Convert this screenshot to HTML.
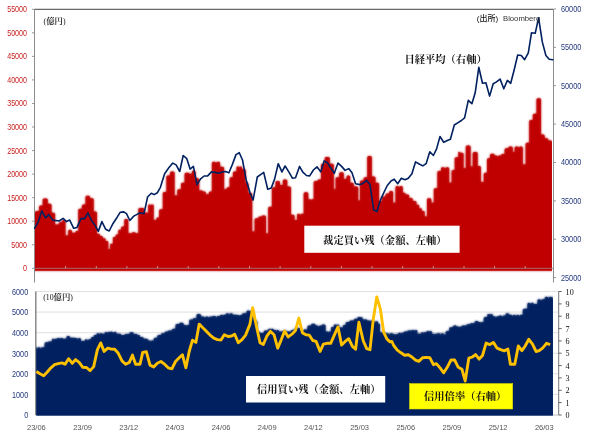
<!DOCTYPE html>
<html lang="ja"><head><meta charset="utf-8"><title>chart</title>
<style>html,body{margin:0;padding:0;background:#fff}svg{display:block}</style></head>
<body><svg width="604" height="439" viewBox="0 0 604 439">
<rect width="604" height="439" fill="#fff"/>
<defs><filter id="soft" x="-2%" y="-2%" width="104%" height="104%"><feGaussianBlur stdDeviation="0.8"/></filter></defs>
<clipPath id="ct"><rect x="34.9" y="9.3" width="517.0" height="265.0"/></clipPath>
<g clip-path="url(#ct)"><path d="M28.0,270.5L28.0,212.4Q28.0,210.9 29.5,210.9L30.0,210.9Q31.7,210.9 31.7,212.7L31.7,212.7Q31.7,210.9 33.5,210.9L33.7,210.9Q35.4,210.9 35.4,212.7L35.4,212.7Q35.4,210.9 37.2,210.9L39.1,210.9L39.1,207.0Q39.1,205.5 40.6,205.5L42.7,205.5L42.7,200.1Q42.7,198.6 44.2,198.6L46.3,198.6Q47.8,198.6 47.8,200.1L47.8,203.7L50.0,203.7Q51.5,203.7 51.5,205.2L51.5,212.8L53.6,212.8Q55.1,212.8 55.1,214.3L55.1,224.6L58.8,224.6L58.8,223.4Q58.8,221.9 60.3,221.9L61.9,221.9L61.9,221.5Q61.9,220.0 63.4,220.0L64.0,220.0Q65.5,220.0 65.5,221.5L65.5,235.5L68.2,235.5L68.2,231.2Q68.2,229.7 69.7,229.7L70.4,229.7Q71.9,229.7 71.9,231.2L71.9,232.8L75.5,232.8L75.5,232.3Q75.5,231.0 76.9,231.0L78.3,231.0L78.3,210.3Q78.3,208.8 79.8,208.8L81.9,208.8L81.9,206.1Q81.9,204.6 83.4,204.6L85.5,204.6L85.5,197.3Q85.5,195.8 87.0,195.8L88.6,195.8Q90.1,195.8 90.1,197.3L90.1,198.2L92.2,198.2Q93.7,198.2 93.7,199.7L93.7,211.5L95.5,211.5Q97.0,211.5 97.0,213.0L97.0,233.7L98.6,233.7Q100.1,233.7 100.1,235.2L100.1,236.1L101.5,236.1Q102.8,236.1 102.8,237.4L102.8,238.3L104.2,238.3Q105.6,238.3 105.6,239.6L105.6,241.0L106.9,241.0Q108.3,241.0 108.3,242.4L108.3,249.2L110.1,249.2L110.1,245.1Q110.1,243.7 111.5,243.7L112.9,243.7L112.9,238.4Q112.9,237.0 114.2,237.0L115.6,237.0L115.6,236.0Q115.6,234.6 117.0,234.6L118.3,234.6L118.3,231.1Q118.3,229.7 119.7,229.7L121.1,229.7L121.1,227.9Q121.1,226.4 122.6,226.4L124.3,226.4L124.3,220.6Q124.3,219.1 125.8,219.1L126.8,219.1Q128.3,219.1 128.3,220.6L128.3,233.3L132.0,233.3L132.0,233.3Q132.0,232.3 133.1,232.3L134.5,232.3Q135.6,232.3 135.6,233.3L135.6,233.3L138.4,233.3L138.4,209.0Q138.4,208.2 139.2,208.2L140.0,208.2L140.0,208.2Q140.0,207.9 140.3,207.9L143.1,207.9Q144.6,207.9 144.6,209.4L144.6,212.8L148.2,212.8L148.2,206.0Q148.2,204.6 149.6,204.6L149.6,204.6Q150.9,204.6 150.9,206.0L150.9,206.0Q150.9,204.6 152.3,204.6L152.3,204.6Q153.7,204.6 153.7,206.0L153.7,220.1L156.4,220.1L156.4,218.8Q156.4,217.4 157.8,217.4L159.1,217.4L159.1,210.7Q159.1,209.2 160.6,209.2L162.8,209.2L162.8,193.4Q162.8,191.9 164.3,191.9L166.4,191.9L166.4,177.0Q166.4,175.5 167.9,175.5L170.0,175.5L170.0,173.0Q170.0,171.5 171.5,171.5L173.1,171.5Q174.6,171.5 174.6,173.0L174.6,195.5L177.3,195.5L177.3,190.7Q177.3,189.2 178.8,189.2L181.0,189.2L181.0,184.3Q181.0,182.8 182.5,182.8L184.6,182.8L184.6,174.3Q184.6,172.8 186.1,172.8L188.3,172.8Q189.2,172.8 189.2,173.7L189.2,173.7L191.9,173.7L191.9,171.9Q191.9,170.4 193.4,170.4L194.0,170.4Q195.5,170.4 195.5,171.9L195.5,178.2L197.7,178.2Q199.2,178.2 199.2,179.7L199.2,190.4L201.7,190.4Q202.8,190.4 202.8,191.5L202.8,191.5L204.4,191.5Q205.9,191.5 205.9,193.0L205.9,194.3L208.8,194.3L208.8,193.0Q208.8,191.5 210.3,191.5L211.9,191.5L211.9,163.3Q211.9,161.8 213.4,161.8L214.3,161.8Q216.0,161.8 216.0,163.6L216.0,163.6Q216.0,161.8 217.8,161.8L218.6,161.8Q220.1,161.8 220.1,163.3L220.1,166.8L222.6,166.8Q224.1,166.8 224.1,168.3L224.1,189.2L226.5,189.2L226.5,188.8Q226.5,187.3 228.0,187.3L229.6,187.3L229.6,178.8Q229.6,177.3 231.1,177.3L232.9,177.3L232.9,173.0Q232.9,171.5 234.4,171.5L236.5,171.5L236.5,167.8Q236.5,166.4 237.9,166.4L237.9,166.4Q239.3,166.4 239.3,167.8L239.3,167.8Q239.3,166.4 240.6,166.4L240.6,166.4Q242.0,166.4 242.0,167.8L242.0,169.1L244.1,169.1Q245.6,169.1 245.6,170.6L245.6,182.8L247.0,182.8Q248.4,182.8 248.4,184.1L248.4,192.8L250.7,192.8Q252.2,192.8 252.2,194.3L252.2,231.4L254.6,231.4L254.6,219.8Q254.6,218.3 256.1,218.3L258.2,218.3L258.2,218.0Q258.2,216.5 259.7,216.5L261.8,216.5L261.8,216.5Q261.8,215.6 262.7,215.6L264.5,215.6Q266.0,215.6 266.0,217.1L266.0,233.4L268.2,233.4L268.2,208.3Q268.2,206.8 269.7,206.8L271.9,206.8L271.9,188.8Q271.9,187.3 273.4,187.3L275.5,187.3L275.5,182.5Q275.5,181.0 277.0,181.0L278.5,181.0Q280.0,181.0 280.0,182.5L280.0,185.0L282.8,185.0L282.8,181.0Q282.8,179.5 284.3,179.5L285.8,179.5Q287.3,179.5 287.3,181.0L287.3,186.4L289.5,186.4Q291.0,186.4 291.0,187.9L291.0,214.7L293.1,214.7Q294.6,214.7 294.6,216.2L294.6,220.1L297.0,220.1L297.0,215.2Q297.0,213.7 298.5,213.7L298.7,213.7Q300.4,213.7 300.4,215.4L300.4,215.4Q300.4,213.7 302.0,213.7L303.7,213.7L303.7,193.8Q303.7,192.3 305.2,192.3L306.8,192.3Q308.3,192.3 308.3,193.8L308.3,199.2L309.6,199.2Q311.0,199.2 311.0,200.5L311.0,200.5Q311.0,199.2 312.4,199.2L313.7,199.2L313.7,182.5Q313.7,181.0 315.2,181.0L317.4,181.0L317.4,181.0Q317.4,179.5 318.8,179.5L321.0,179.5L321.0,165.2Q321.0,163.7 322.5,163.7L324.7,163.7L324.7,158.4Q324.7,156.9 326.2,156.9L328.3,156.9Q329.8,156.9 329.8,158.4L329.8,163.7L332.3,163.7Q333.8,163.7 333.8,165.2L333.8,189.2L335.6,189.2L335.6,178.8Q335.6,177.3 337.1,177.3L339.2,177.3L339.2,173.7Q339.2,172.2 340.7,172.2L342.3,172.2Q343.8,172.2 343.8,173.7L343.8,179.1L346.5,179.1L346.5,177.0Q346.5,175.5 348.0,175.5L348.7,175.5Q350.2,175.5 350.2,177.0L350.2,182.8L352.3,182.8Q353.8,182.8 353.8,184.3L353.8,186.4L356.7,186.4Q358.2,186.4 358.2,187.9L358.2,200.4L360.0,200.4L360.0,181.9Q360.0,180.4 361.5,180.4L363.6,180.4L363.6,178.8Q363.6,177.3 365.1,177.3L367.3,177.3L367.3,157.5Q367.3,156.0 368.8,156.0L370.3,156.0Q371.8,156.0 371.8,157.5L371.8,176.4L374.0,176.4Q375.5,176.4 375.5,177.9L375.5,182.8L377.6,182.8Q379.1,182.8 379.1,184.3L379.1,201.0L381.9,201.0L381.9,198.0Q381.9,196.5 383.4,196.5L385.5,196.5L385.5,194.9Q385.5,193.4 387.0,193.4L389.1,193.4L389.1,192.5Q389.1,191.0 390.6,191.0L391.6,191.0Q393.1,191.0 393.1,192.5L393.1,202.8L395.5,202.8L395.5,187.4Q395.5,185.9 397.0,185.9L397.4,185.9Q399.2,185.9 399.2,187.6L399.2,187.6Q399.2,185.9 400.9,185.9L401.3,185.9Q402.8,185.9 402.8,187.4L402.8,192.8L404.2,192.8Q405.5,192.8 405.5,194.2L405.5,194.6L407.7,194.6Q409.2,194.6 409.2,196.1L409.2,197.9L411.3,197.9Q412.8,197.9 412.8,199.4L412.8,201.0L415.0,201.0Q416.5,201.0 416.5,202.5L416.5,204.7L417.8,204.7Q419.2,204.7 419.2,206.0L419.2,208.3L420.6,208.3Q421.9,208.3 421.9,209.7L421.9,211.0L423.3,211.0Q424.7,211.0 424.7,212.4L424.7,216.5L427.0,216.5L427.0,199.8Q427.0,198.3 428.5,198.3L429.9,198.3Q431.4,198.3 431.4,199.8L431.4,202.8L433.8,202.8L433.8,189.8Q433.8,188.3 435.3,188.3L437.4,188.3L437.4,172.5Q437.4,171.0 438.9,171.0L441.0,171.0L441.0,168.8Q441.0,167.3 442.5,167.3L443.4,167.3Q445.1,167.3 445.1,169.1L445.1,169.1Q445.1,167.3 446.9,167.3L447.7,167.3Q449.2,167.3 449.2,168.8L449.2,182.8L451.6,182.8L451.6,171.5Q451.6,170.0 453.1,170.0L454.7,170.0L454.7,158.8Q454.7,157.3 456.2,157.3L458.3,157.3L458.3,152.7Q458.3,151.8 459.2,151.8L459.2,151.8Q460.0,151.8 460.0,152.7L460.0,152.8L462.1,152.8Q463.6,152.8 463.6,154.3L463.6,168.2L465.8,168.2L465.8,147.0Q465.8,145.5 467.3,145.5L469.1,145.5Q470.6,145.5 470.6,147.0L470.6,166.4L472.7,166.4L472.7,153.4Q472.7,151.9 474.2,151.9L476.2,151.9Q477.7,151.9 477.7,153.4L477.7,165.9L479.4,165.9Q480.9,165.9 480.9,167.4L480.9,181.9L483.7,181.9L483.7,174.3Q483.7,172.8 485.2,172.8L487.0,172.8L487.0,159.7Q487.0,158.2 488.5,158.2L490.0,158.2L490.0,155.2Q490.0,153.7 491.5,153.7L493.1,153.7Q494.6,153.7 494.6,155.2L494.6,155.5L496.2,155.5Q497.8,155.5 497.8,157.1L497.8,157.1Q497.8,155.5 499.4,155.5L501.0,155.5L501.0,155.5Q501.0,154.0 502.4,154.0L504.6,154.0L504.6,149.7Q504.6,148.2 506.1,148.2L508.3,148.2L508.3,147.9Q508.3,146.4 509.8,146.4L511.3,146.4Q512.8,146.4 512.8,147.9L512.8,151.9L514.6,151.9L514.6,147.9Q514.6,146.4 516.1,146.4L517.0,146.4Q518.7,146.4 518.7,148.1L518.7,148.1Q518.7,146.4 520.5,146.4L521.3,146.4Q522.8,146.4 522.8,147.9L522.8,164.6L525.6,164.6L525.6,144.2Q525.6,142.7 527.1,142.7L529.2,142.7L529.2,121.5Q529.2,120.0 530.7,120.0L532.8,120.0L532.8,115.2Q532.8,113.7 534.3,113.7L536.5,113.7L536.5,99.7Q536.5,98.2 538.0,98.2L539.5,98.2Q541.0,98.2 541.0,99.7L541.0,134.6L543.2,134.6Q544.7,134.6 544.7,136.1L544.7,138.3L546.8,138.3Q548.3,138.3 548.3,139.8L548.3,140.6L550.5,140.6Q552.2,140.6 552.2,142.4L552.2,142.4Q552.2,140.6 554.0,140.6L554.4,140.6Q556.1,140.6 556.1,142.4L556.1,142.4Q556.1,140.6 557.9,140.6L558.5,140.6Q560.0,140.6 560.0,142.1L560.0,270.5Z" fill="#C00000" filter="url(#soft)"/><path d="M28.0,270.5L28.0,212.4Q28.0,210.9 29.5,210.9L30.0,210.9Q31.7,210.9 31.7,212.7L31.7,212.7Q31.7,210.9 33.5,210.9L33.7,210.9Q35.4,210.9 35.4,212.7L35.4,212.7Q35.4,210.9 37.2,210.9L39.1,210.9L39.1,207.0Q39.1,205.5 40.6,205.5L42.7,205.5L42.7,200.1Q42.7,198.6 44.2,198.6L46.3,198.6Q47.8,198.6 47.8,200.1L47.8,203.7L50.0,203.7Q51.5,203.7 51.5,205.2L51.5,212.8L53.6,212.8Q55.1,212.8 55.1,214.3L55.1,224.6L58.8,224.6L58.8,223.4Q58.8,221.9 60.3,221.9L61.9,221.9L61.9,221.5Q61.9,220.0 63.4,220.0L64.0,220.0Q65.5,220.0 65.5,221.5L65.5,235.5L68.2,235.5L68.2,231.2Q68.2,229.7 69.7,229.7L70.4,229.7Q71.9,229.7 71.9,231.2L71.9,232.8L75.5,232.8L75.5,232.3Q75.5,231.0 76.9,231.0L78.3,231.0L78.3,210.3Q78.3,208.8 79.8,208.8L81.9,208.8L81.9,206.1Q81.9,204.6 83.4,204.6L85.5,204.6L85.5,197.3Q85.5,195.8 87.0,195.8L88.6,195.8Q90.1,195.8 90.1,197.3L90.1,198.2L92.2,198.2Q93.7,198.2 93.7,199.7L93.7,211.5L95.5,211.5Q97.0,211.5 97.0,213.0L97.0,233.7L98.6,233.7Q100.1,233.7 100.1,235.2L100.1,236.1L101.5,236.1Q102.8,236.1 102.8,237.4L102.8,238.3L104.2,238.3Q105.6,238.3 105.6,239.6L105.6,241.0L106.9,241.0Q108.3,241.0 108.3,242.4L108.3,249.2L110.1,249.2L110.1,245.1Q110.1,243.7 111.5,243.7L112.9,243.7L112.9,238.4Q112.9,237.0 114.2,237.0L115.6,237.0L115.6,236.0Q115.6,234.6 117.0,234.6L118.3,234.6L118.3,231.1Q118.3,229.7 119.7,229.7L121.1,229.7L121.1,227.9Q121.1,226.4 122.6,226.4L124.3,226.4L124.3,220.6Q124.3,219.1 125.8,219.1L126.8,219.1Q128.3,219.1 128.3,220.6L128.3,233.3L132.0,233.3L132.0,233.3Q132.0,232.3 133.1,232.3L134.5,232.3Q135.6,232.3 135.6,233.3L135.6,233.3L138.4,233.3L138.4,209.0Q138.4,208.2 139.2,208.2L140.0,208.2L140.0,208.2Q140.0,207.9 140.3,207.9L143.1,207.9Q144.6,207.9 144.6,209.4L144.6,212.8L148.2,212.8L148.2,206.0Q148.2,204.6 149.6,204.6L149.6,204.6Q150.9,204.6 150.9,206.0L150.9,206.0Q150.9,204.6 152.3,204.6L152.3,204.6Q153.7,204.6 153.7,206.0L153.7,220.1L156.4,220.1L156.4,218.8Q156.4,217.4 157.8,217.4L159.1,217.4L159.1,210.7Q159.1,209.2 160.6,209.2L162.8,209.2L162.8,193.4Q162.8,191.9 164.3,191.9L166.4,191.9L166.4,177.0Q166.4,175.5 167.9,175.5L170.0,175.5L170.0,173.0Q170.0,171.5 171.5,171.5L173.1,171.5Q174.6,171.5 174.6,173.0L174.6,195.5L177.3,195.5L177.3,190.7Q177.3,189.2 178.8,189.2L181.0,189.2L181.0,184.3Q181.0,182.8 182.5,182.8L184.6,182.8L184.6,174.3Q184.6,172.8 186.1,172.8L188.3,172.8Q189.2,172.8 189.2,173.7L189.2,173.7L191.9,173.7L191.9,171.9Q191.9,170.4 193.4,170.4L194.0,170.4Q195.5,170.4 195.5,171.9L195.5,178.2L197.7,178.2Q199.2,178.2 199.2,179.7L199.2,190.4L201.7,190.4Q202.8,190.4 202.8,191.5L202.8,191.5L204.4,191.5Q205.9,191.5 205.9,193.0L205.9,194.3L208.8,194.3L208.8,193.0Q208.8,191.5 210.3,191.5L211.9,191.5L211.9,163.3Q211.9,161.8 213.4,161.8L214.3,161.8Q216.0,161.8 216.0,163.6L216.0,163.6Q216.0,161.8 217.8,161.8L218.6,161.8Q220.1,161.8 220.1,163.3L220.1,166.8L222.6,166.8Q224.1,166.8 224.1,168.3L224.1,189.2L226.5,189.2L226.5,188.8Q226.5,187.3 228.0,187.3L229.6,187.3L229.6,178.8Q229.6,177.3 231.1,177.3L232.9,177.3L232.9,173.0Q232.9,171.5 234.4,171.5L236.5,171.5L236.5,167.8Q236.5,166.4 237.9,166.4L237.9,166.4Q239.3,166.4 239.3,167.8L239.3,167.8Q239.3,166.4 240.6,166.4L240.6,166.4Q242.0,166.4 242.0,167.8L242.0,169.1L244.1,169.1Q245.6,169.1 245.6,170.6L245.6,182.8L247.0,182.8Q248.4,182.8 248.4,184.1L248.4,192.8L250.7,192.8Q252.2,192.8 252.2,194.3L252.2,231.4L254.6,231.4L254.6,219.8Q254.6,218.3 256.1,218.3L258.2,218.3L258.2,218.0Q258.2,216.5 259.7,216.5L261.8,216.5L261.8,216.5Q261.8,215.6 262.7,215.6L264.5,215.6Q266.0,215.6 266.0,217.1L266.0,233.4L268.2,233.4L268.2,208.3Q268.2,206.8 269.7,206.8L271.9,206.8L271.9,188.8Q271.9,187.3 273.4,187.3L275.5,187.3L275.5,182.5Q275.5,181.0 277.0,181.0L278.5,181.0Q280.0,181.0 280.0,182.5L280.0,185.0L282.8,185.0L282.8,181.0Q282.8,179.5 284.3,179.5L285.8,179.5Q287.3,179.5 287.3,181.0L287.3,186.4L289.5,186.4Q291.0,186.4 291.0,187.9L291.0,214.7L293.1,214.7Q294.6,214.7 294.6,216.2L294.6,220.1L297.0,220.1L297.0,215.2Q297.0,213.7 298.5,213.7L298.7,213.7Q300.4,213.7 300.4,215.4L300.4,215.4Q300.4,213.7 302.0,213.7L303.7,213.7L303.7,193.8Q303.7,192.3 305.2,192.3L306.8,192.3Q308.3,192.3 308.3,193.8L308.3,199.2L309.6,199.2Q311.0,199.2 311.0,200.5L311.0,200.5Q311.0,199.2 312.4,199.2L313.7,199.2L313.7,182.5Q313.7,181.0 315.2,181.0L317.4,181.0L317.4,181.0Q317.4,179.5 318.8,179.5L321.0,179.5L321.0,165.2Q321.0,163.7 322.5,163.7L324.7,163.7L324.7,158.4Q324.7,156.9 326.2,156.9L328.3,156.9Q329.8,156.9 329.8,158.4L329.8,163.7L332.3,163.7Q333.8,163.7 333.8,165.2L333.8,189.2L335.6,189.2L335.6,178.8Q335.6,177.3 337.1,177.3L339.2,177.3L339.2,173.7Q339.2,172.2 340.7,172.2L342.3,172.2Q343.8,172.2 343.8,173.7L343.8,179.1L346.5,179.1L346.5,177.0Q346.5,175.5 348.0,175.5L348.7,175.5Q350.2,175.5 350.2,177.0L350.2,182.8L352.3,182.8Q353.8,182.8 353.8,184.3L353.8,186.4L356.7,186.4Q358.2,186.4 358.2,187.9L358.2,200.4L360.0,200.4L360.0,181.9Q360.0,180.4 361.5,180.4L363.6,180.4L363.6,178.8Q363.6,177.3 365.1,177.3L367.3,177.3L367.3,157.5Q367.3,156.0 368.8,156.0L370.3,156.0Q371.8,156.0 371.8,157.5L371.8,176.4L374.0,176.4Q375.5,176.4 375.5,177.9L375.5,182.8L377.6,182.8Q379.1,182.8 379.1,184.3L379.1,201.0L381.9,201.0L381.9,198.0Q381.9,196.5 383.4,196.5L385.5,196.5L385.5,194.9Q385.5,193.4 387.0,193.4L389.1,193.4L389.1,192.5Q389.1,191.0 390.6,191.0L391.6,191.0Q393.1,191.0 393.1,192.5L393.1,202.8L395.5,202.8L395.5,187.4Q395.5,185.9 397.0,185.9L397.4,185.9Q399.2,185.9 399.2,187.6L399.2,187.6Q399.2,185.9 400.9,185.9L401.3,185.9Q402.8,185.9 402.8,187.4L402.8,192.8L404.2,192.8Q405.5,192.8 405.5,194.2L405.5,194.6L407.7,194.6Q409.2,194.6 409.2,196.1L409.2,197.9L411.3,197.9Q412.8,197.9 412.8,199.4L412.8,201.0L415.0,201.0Q416.5,201.0 416.5,202.5L416.5,204.7L417.8,204.7Q419.2,204.7 419.2,206.0L419.2,208.3L420.6,208.3Q421.9,208.3 421.9,209.7L421.9,211.0L423.3,211.0Q424.7,211.0 424.7,212.4L424.7,216.5L427.0,216.5L427.0,199.8Q427.0,198.3 428.5,198.3L429.9,198.3Q431.4,198.3 431.4,199.8L431.4,202.8L433.8,202.8L433.8,189.8Q433.8,188.3 435.3,188.3L437.4,188.3L437.4,172.5Q437.4,171.0 438.9,171.0L441.0,171.0L441.0,168.8Q441.0,167.3 442.5,167.3L443.4,167.3Q445.1,167.3 445.1,169.1L445.1,169.1Q445.1,167.3 446.9,167.3L447.7,167.3Q449.2,167.3 449.2,168.8L449.2,182.8L451.6,182.8L451.6,171.5Q451.6,170.0 453.1,170.0L454.7,170.0L454.7,158.8Q454.7,157.3 456.2,157.3L458.3,157.3L458.3,152.7Q458.3,151.8 459.2,151.8L459.2,151.8Q460.0,151.8 460.0,152.7L460.0,152.8L462.1,152.8Q463.6,152.8 463.6,154.3L463.6,168.2L465.8,168.2L465.8,147.0Q465.8,145.5 467.3,145.5L469.1,145.5Q470.6,145.5 470.6,147.0L470.6,166.4L472.7,166.4L472.7,153.4Q472.7,151.9 474.2,151.9L476.2,151.9Q477.7,151.9 477.7,153.4L477.7,165.9L479.4,165.9Q480.9,165.9 480.9,167.4L480.9,181.9L483.7,181.9L483.7,174.3Q483.7,172.8 485.2,172.8L487.0,172.8L487.0,159.7Q487.0,158.2 488.5,158.2L490.0,158.2L490.0,155.2Q490.0,153.7 491.5,153.7L493.1,153.7Q494.6,153.7 494.6,155.2L494.6,155.5L496.2,155.5Q497.8,155.5 497.8,157.1L497.8,157.1Q497.8,155.5 499.4,155.5L501.0,155.5L501.0,155.5Q501.0,154.0 502.4,154.0L504.6,154.0L504.6,149.7Q504.6,148.2 506.1,148.2L508.3,148.2L508.3,147.9Q508.3,146.4 509.8,146.4L511.3,146.4Q512.8,146.4 512.8,147.9L512.8,151.9L514.6,151.9L514.6,147.9Q514.6,146.4 516.1,146.4L517.0,146.4Q518.7,146.4 518.7,148.1L518.7,148.1Q518.7,146.4 520.5,146.4L521.3,146.4Q522.8,146.4 522.8,147.9L522.8,164.6L525.6,164.6L525.6,144.2Q525.6,142.7 527.1,142.7L529.2,142.7L529.2,121.5Q529.2,120.0 530.7,120.0L532.8,120.0L532.8,115.2Q532.8,113.7 534.3,113.7L536.5,113.7L536.5,99.7Q536.5,98.2 538.0,98.2L539.5,98.2Q541.0,98.2 541.0,99.7L541.0,134.6L543.2,134.6Q544.7,134.6 544.7,136.1L544.7,138.3L546.8,138.3Q548.3,138.3 548.3,139.8L548.3,140.6L550.5,140.6Q552.2,140.6 552.2,142.4L552.2,142.4Q552.2,140.6 554.0,140.6L554.4,140.6Q556.1,140.6 556.1,142.4L556.1,142.4Q556.1,140.6 557.9,140.6L558.5,140.6Q560.0,140.6 560.0,142.1L560.0,270.5Z" fill="#C00000" opacity="0.75"/></g>
<rect x="34.5" y="268.3" width="517.4" height="2.2" fill="#C00000"/>
<path d="M34.5,9.3H553.5" stroke="#444" stroke-width="1" fill="none"/>
<path d="M34.5,9.3V282.5" stroke="#8c8c8c" stroke-width="1" fill="none"/>
<path d="M553.5,9.3V282.5" stroke="#8c8c8c" stroke-width="1" fill="none"/>
<path d="M34.5,268.3H553.5" stroke="#a07878" stroke-width="0.9" fill="none"/>
<path d="M65.6,266.1V268.3M96.3,266.1V268.3M126.9,266.1V268.3M157.6,266.1V268.3M188.2,266.1V268.3M218.8,266.1V268.3M249.5,266.1V268.3M280.1,266.1V268.3M310.8,266.1V268.3M341.4,266.1V268.3M372.0,266.1V268.3M402.7,266.1V268.3M433.3,266.1V268.3M464.0,266.1V268.3M494.6,266.1V268.3M525.2,266.1V268.3" stroke="#cfa0a0" stroke-width="0.9" fill="none"/>
<path d="M32.0,9.3H34.5M32.0,32.8H34.5M32.0,56.4H34.5M32.0,79.9H34.5M32.0,103.5H34.5M32.0,127.0H34.5M32.0,150.6H34.5M32.0,174.1H34.5M32.0,197.7H34.5M32.0,221.2H34.5M32.0,244.8H34.5M32.0,268.3H34.5" stroke="#8c8c8c" stroke-width="0.9" fill="none"/>
<path d="M553.5,9.0H556.0M553.5,47.4H556.0M553.5,85.7H556.0M553.5,124.1H556.0M553.5,162.5H556.0M553.5,200.9H556.0M553.5,239.2H556.0M553.5,277.6H556.0" stroke="#8c8c8c" stroke-width="0.9" fill="none"/>
<g font-family="'Liberation Sans',sans-serif" font-size="8.3" fill="#c81e1e" text-anchor="end">
<text x="27" y="12.2" textLength="19.8" lengthAdjust="spacingAndGlyphs">55000</text>
<text x="27" y="35.7" textLength="19.8" lengthAdjust="spacingAndGlyphs">50000</text>
<text x="27" y="59.3" textLength="19.8" lengthAdjust="spacingAndGlyphs">45000</text>
<text x="27" y="82.8" textLength="19.8" lengthAdjust="spacingAndGlyphs">40000</text>
<text x="27" y="106.4" textLength="19.8" lengthAdjust="spacingAndGlyphs">35000</text>
<text x="27" y="129.9" textLength="19.8" lengthAdjust="spacingAndGlyphs">30000</text>
<text x="27" y="153.5" textLength="19.8" lengthAdjust="spacingAndGlyphs">25000</text>
<text x="27" y="177.0" textLength="19.8" lengthAdjust="spacingAndGlyphs">20000</text>
<text x="27" y="200.6" textLength="19.8" lengthAdjust="spacingAndGlyphs">15000</text>
<text x="27" y="224.1" textLength="19.8" lengthAdjust="spacingAndGlyphs">10000</text>
<text x="27" y="247.7" textLength="15.8" lengthAdjust="spacingAndGlyphs">5000</text>
<text x="27" y="271.2" textLength="4.0" lengthAdjust="spacingAndGlyphs">0</text>
</g>
<g font-family="'Liberation Sans',sans-serif" font-size="8.3" fill="#24397a">
<text x="561" y="11.9" textLength="20.3" lengthAdjust="spacingAndGlyphs">60000</text>
<text x="561" y="50.3" textLength="20.3" lengthAdjust="spacingAndGlyphs">55000</text>
<text x="561" y="88.6" textLength="20.3" lengthAdjust="spacingAndGlyphs">50000</text>
<text x="561" y="127.0" textLength="20.3" lengthAdjust="spacingAndGlyphs">45000</text>
<text x="561" y="165.4" textLength="20.3" lengthAdjust="spacingAndGlyphs">40000</text>
<text x="561" y="203.8" textLength="20.3" lengthAdjust="spacingAndGlyphs">35000</text>
<text x="561" y="242.1" textLength="20.3" lengthAdjust="spacingAndGlyphs">30000</text>
<text x="561" y="280.5" textLength="20.3" lengthAdjust="spacingAndGlyphs">25000</text>
</g>
<path d="M34.6,228.3L38.2,221.9L41.8,211.0L45.5,217.9L48.8,214.6L52.8,220.1L59.1,221.0L63.1,218.3L66.4,221.6L69.7,220.1L73.7,228.3L77.0,227.4L81.0,218.6L84.6,218.6L87.9,212.8L91.9,221.0L95.2,225.6L98.3,231.4L101.9,221.6L105.6,229.2L109.2,231.0L112.9,223.7L116.5,218.3L120.1,212.3L123.8,211.9L126.5,213.7L129.8,220.5L133.8,216.1L137.5,214.1L140.0,212.8L144.0,213.7L147.6,197.0L151.3,193.2L154.2,194.6L157.3,192.8L160.4,187.3L164.6,173.7L168.8,167.8L172.8,163.1L176.1,164.9L179.7,171.5L183.2,155.5L186.8,158.7L190.1,169.1L193.4,166.4L197.0,184.6L200.6,178.8L204.1,176.0L207.7,175.9L211.4,171.9L215.0,172.4L218.7,173.3L222.3,171.9L225.6,171.5L228.9,172.8L232.3,164.6L236.0,154.6L239.3,152.7L242.5,160.0L246.2,180.0L250.0,192.8L253.1,200.1L257.3,177.0L260.6,174.6L263.7,172.4L267.7,189.2L271.3,187.9L274.6,179.1L278.2,163.7L281.9,171.9L285.1,166.0L288.8,171.9L292.4,178.2L295.5,177.7L299.5,166.4L302.8,172.2L306.5,175.5L309.7,175.9L313.4,170.0L317.0,166.8L320.7,171.9L324.1,160.9L327.4,162.7L331.0,168.2L334.3,173.3L338.0,163.1L341.6,166.4L345.1,170.4L348.7,168.6L352.0,172.8L355.6,183.7L360.0,184.6L363.3,183.2L366.7,180.4L370.0,184.6L373.7,210.1L376.9,211.4L380.4,200.1L383.7,192.8L387.3,185.5L391.0,181.0L394.2,179.2L397.7,183.7L401.3,178.2L405.0,179.7L408.3,178.2L411.9,173.7L415.5,161.9L419.2,164.0L422.8,165.9L426.1,163.7L429.8,151.8L433.4,155.5L436.5,149.1L440.0,136.5L443.7,142.3L447.3,140.5L450.4,139.2L454.3,125.0L457.7,122.8L461.4,120.5L464.6,117.9L468.3,100.4L471.9,103.7L475.2,92.8L478.8,67.3L482.5,83.3L485.9,82.8L489.6,96.1L493.2,83.7L496.5,81.9L500.1,79.1L503.8,88.8L507.4,80.4L510.7,83.3L514.2,69.7L517.7,55.0L521.3,55.5L524.6,59.7L528.3,52.8L531.5,32.8L535.2,33.3L538.6,17.8L542.3,41.9L545.9,55.5L549.2,59.2L552.8,59.7" stroke="#002060" stroke-width="1.6" fill="none" stroke-linejoin="round" stroke-linecap="round"/>
<text x="43.6" y="24.3" font-family="'Liberation Serif','Noto Serif CJK JP','Noto Serif CJK SC',serif" font-size="7.8" fill="#111">(<tspan font-size="8.4" font-weight="600">億円</tspan>)</text>
<text x="476.8" y="21.2" font-family="'Liberation Sans','Noto Sans CJK JP',sans-serif" font-size="8" font-weight="500" fill="#111">(出所)</text>
<text x="503" y="20.8" font-family="'Liberation Sans','Noto Sans CJK JP',sans-serif" font-size="7.7" fill="#333">Bloomberg</text>
<text x="404.4" y="63.3" font-family="'Liberation Serif','Noto Serif CJK JP','Noto Serif CJK SC',serif" font-size="10.3" font-weight="700" fill="#111">日経平均（右軸）</text>
<rect x="304.3" y="225.7" width="155.3" height="27.1" fill="#fff"/>
<text x="323.1" y="243.6" font-family="'Liberation Serif','Noto Serif CJK JP','Noto Serif CJK SC',serif" font-size="10.3" font-weight="700" fill="#111">裁定買い残（金額、左軸）</text>
<path d="M35.8,291.5H558.7M35.8,312.1H558.7M35.8,332.7H558.7M35.8,353.2H558.7M35.8,373.8H558.7M35.8,394.4H558.7" stroke="#dcdcdc" stroke-width="0.9" fill="none"/>
<path d="M35.8,291.5V415.0" stroke="#808080" stroke-width="1.4" fill="none"/>
<path d="M35.8,415.0H558.7" stroke="#b0b0b0" stroke-width="0.8" fill="none"/>
<clipPath id="cb"><rect x="36.3" y="289.5" width="516.6" height="126.1"/></clipPath>
<g clip-path="url(#cb)"><path d="M30.0,421.0L30.0,348.8Q30.0,347.3 31.5,347.3L31.9,347.3Q33.6,347.3 33.6,349.0L33.6,349.0Q33.6,347.3 35.4,347.3L35.5,347.3Q37.3,347.3 37.3,349.0L37.3,349.0Q37.3,347.3 39.0,347.3L39.2,347.3Q40.9,347.3 40.9,349.0L40.9,349.0Q40.9,347.3 42.7,347.3L44.6,347.3L44.6,343.8Q44.6,342.3 46.1,342.3L48.2,342.3L48.2,342.3Q48.2,341.4 49.1,341.4L51.9,341.4L51.9,340.1Q51.9,338.7 53.2,338.7L53.2,338.7Q54.6,338.7 54.6,340.1L54.6,340.1Q54.6,338.7 56.0,338.7L57.3,338.7L57.3,338.7Q57.3,338.1 57.9,338.1L58.7,338.1Q60.0,338.1 60.0,339.5L60.0,339.5Q60.0,338.1 61.4,338.1L62.2,338.1Q62.8,338.1 62.8,338.7L62.8,338.7L66.4,338.7L66.4,337.5Q66.4,336.0 67.9,336.0L68.6,336.0Q70.1,336.0 70.1,337.5L70.1,337.8L74.3,337.8Q74.6,337.8 74.6,338.1L74.6,338.1L76.2,338.1Q77.8,338.1 77.8,339.7L77.8,339.7Q77.8,338.1 79.4,338.1L79.5,338.1Q81.0,338.1 81.0,339.6L81.0,340.9L84.6,340.9L84.6,340.7Q84.6,339.2 86.1,339.2L86.2,339.2Q87.8,339.2 87.8,340.8L87.8,340.8Q87.8,339.2 89.4,339.2L91.0,339.2L91.0,338.2Q91.0,336.9 92.4,336.9L93.7,336.9L93.7,336.4Q93.7,335.0 95.1,335.0L96.5,335.0L96.5,334.6Q96.5,333.2 97.8,333.2L97.8,333.2Q99.2,333.2 99.2,334.6L99.2,334.6Q99.2,333.2 100.6,333.2L101.4,333.2Q101.9,333.2 101.9,333.8L101.9,333.8L104.7,333.8L104.7,333.3Q104.7,332.0 106.0,332.0L106.0,332.0Q107.4,332.0 107.4,333.3L107.4,333.3Q107.4,332.0 108.8,332.0L110.1,332.0L110.1,331.8L111.7,331.8Q113.3,331.8 113.3,333.4L113.3,333.4Q113.3,331.8 114.9,331.8L115.0,331.8Q116.5,331.8 116.5,333.3L116.5,333.8L119.8,333.8Q121.1,333.8 121.1,335.0L121.1,335.0L124.7,335.0L124.7,335.0Q124.7,334.1 125.6,334.1L129.3,334.1L129.3,333.8Q129.3,332.3 130.8,332.3L132.3,332.3Q133.8,332.3 133.8,333.8L133.8,334.1L136.5,334.1Q137.5,334.1 137.5,335.0L137.5,335.0L138.7,335.0Q140.0,335.0 140.0,336.3L140.0,336.9L142.1,336.9Q143.6,336.9 143.6,338.4L143.6,338.7L146.7,338.7Q148.2,338.7 148.2,340.2L148.2,340.5L149.6,340.5Q150.9,340.5 150.9,341.9L150.9,341.9Q150.9,340.5 152.3,340.5L153.7,340.5L153.7,339.3Q153.7,337.8 155.2,337.8L157.3,337.8L157.3,336.6Q157.3,335.1 158.8,335.1L160.9,335.1L160.9,334.7Q160.9,333.2 162.4,333.2L164.6,333.2L164.6,332.9Q164.6,331.4 166.1,331.4L168.2,331.4L168.2,331.4Q168.2,330.5 169.1,330.5L171.9,330.5L171.9,330.2Q171.9,328.7 173.4,328.7L175.5,328.7L175.5,325.6Q175.5,324.1 177.0,324.1L179.2,324.1L179.2,324.1Q179.2,322.7 180.6,322.7L182.2,322.7Q183.7,322.7 183.7,324.2L183.7,325.0L185.1,325.0Q186.4,325.0 186.4,326.4L186.4,326.4Q186.4,325.0 187.8,325.0L189.2,325.0L189.2,321.1Q189.2,319.6 190.7,319.6L192.8,319.6L192.8,319.6Q192.8,318.3 194.1,318.3L196.5,318.3L196.5,315.6Q196.5,314.1 198.0,314.1L199.5,314.1Q201.0,314.1 201.0,315.6L201.0,316.5L203.2,316.5Q205.0,316.5 205.0,318.2L205.0,318.2Q205.0,316.5 206.7,316.5L207.2,316.5Q208.9,316.5 208.9,318.2L208.9,318.2Q208.9,316.5 210.7,316.5L212.8,316.5L212.8,316.5Q212.8,315.9 213.4,315.9L214.7,315.9Q216.5,315.9 216.5,317.7L216.5,317.7Q216.5,315.9 218.2,315.9L220.1,315.9L220.1,315.9Q220.1,314.7 221.4,314.7L221.5,314.7Q222.9,314.7 222.9,316.0L222.9,316.0Q222.9,314.7 224.2,314.7L225.6,314.7L225.6,314.7Q225.6,313.2 227.1,313.2L227.5,313.2Q229.2,313.2 229.2,315.0L229.2,315.0Q229.2,313.2 231.0,313.2L231.4,313.2Q232.9,313.2 232.9,314.7L232.9,314.7L236.2,314.7Q236.5,314.7 236.5,315.0L236.5,315.0L237.9,315.0Q239.3,315.0 239.3,316.4L239.3,316.4Q239.3,315.0 240.6,315.0L242.0,315.0L242.0,314.7Q242.0,313.2 243.5,313.2L246.5,313.2L246.5,312.0Q246.5,310.5 248.0,310.5L248.3,310.5Q250.1,310.5 250.1,312.2L250.1,312.2Q250.1,310.5 251.8,310.5L252.1,310.5Q253.6,310.5 253.6,312.0L253.6,320.5L255.8,320.5Q257.3,320.5 257.3,322.0L257.3,331.4L258.7,331.4Q260.0,331.4 260.0,332.8L260.0,332.9L263.7,332.9L263.7,332.0Q263.7,330.5 265.2,330.5L268.2,330.5L268.2,330.1Q268.2,328.7 269.6,328.7L269.6,328.7Q270.9,328.7 270.9,330.1L270.9,330.1Q270.9,328.7 272.3,328.7L272.4,328.7Q273.7,328.7 273.7,330.0L273.7,330.0L275.0,330.0Q276.4,330.0 276.4,331.3L276.4,331.3Q276.4,330.0 277.8,330.0L277.8,330.0Q279.1,330.0 279.1,331.3L279.1,331.4L282.8,331.4L282.8,331.4Q282.8,330.5 283.7,330.5L285.5,330.5Q286.4,330.5 286.4,331.4L286.4,331.4L291.0,331.4L291.0,331.4Q291.0,330.0 292.4,330.0L294.6,330.0L294.6,329.1Q294.6,327.8 296.0,327.8L296.0,327.8Q297.4,327.8 297.4,329.1L297.4,329.1Q297.4,327.8 298.7,327.8L298.7,327.8Q300.1,327.8 300.1,329.1L300.1,330.5L303.7,330.5L303.7,330.5Q303.7,329.6 304.6,329.6L307.4,329.6L307.4,327.1Q307.4,325.6 308.9,325.6L311.0,325.6L311.0,325.3Q311.0,323.8 312.5,323.8L314.1,323.8Q315.6,323.8 315.6,325.3L315.6,325.6L317.2,325.6Q318.8,325.6 318.8,327.2L318.8,327.2Q318.8,325.6 320.3,325.6L321.9,325.6L321.9,325.6Q321.9,324.5 323.0,324.5L324.1,324.5Q325.6,324.5 325.6,326.0L325.6,331.4L326.9,331.4Q328.3,331.4 328.3,332.8L328.3,332.8Q328.3,331.4 329.7,331.4L331.0,331.4L331.0,328.2Q331.0,326.9 332.4,326.9L333.8,326.9L333.8,325.9Q333.8,324.5 335.1,324.5L335.1,324.5Q336.5,324.5 336.5,325.9L336.5,325.9Q336.5,324.5 337.9,324.5L337.9,324.5Q339.2,324.5 339.2,325.9L339.2,327.4L342.9,327.4L342.9,326.4Q342.9,325.0 344.2,325.0L345.6,325.0L345.6,323.5Q345.6,322.0 347.1,322.0L349.3,322.0L349.3,322.0Q349.3,320.5 350.7,320.5L353.8,320.5L353.8,320.2Q353.8,318.7 355.3,318.7L357.5,318.7L357.5,318.1Q357.5,316.9 358.7,316.9L359.5,316.9Q360.0,316.9 360.0,317.3L360.0,317.3L361.4,317.3Q362.7,317.3 362.7,318.7L362.7,319.5L366.2,319.5Q367.3,319.5 367.3,320.6L367.3,320.6L368.7,320.6Q370.0,320.6 370.0,322.0L370.0,322.0Q370.0,320.6 371.4,320.6L372.0,320.6Q372.7,320.6 372.7,321.3L372.7,321.3L374.1,321.3Q375.5,321.3 375.5,322.7L375.5,322.7Q375.5,321.3 376.8,321.3L376.8,321.3Q378.2,321.3 378.2,322.7L378.2,323.7L379.1,323.7Q380.0,323.7 380.0,324.6L380.0,332.3L381.4,332.3Q382.8,332.3 382.8,333.6L382.8,333.6Q382.8,332.3 384.1,332.3L384.4,332.3Q385.5,332.3 385.5,333.3L385.5,333.3L387.4,333.3Q389.1,333.3 389.1,335.1L389.1,335.1Q389.1,333.3 390.9,333.3L392.1,333.3Q392.8,333.3 392.8,334.1L392.8,334.1L394.1,334.1Q395.5,334.1 395.5,335.4L395.5,335.4Q395.5,334.1 396.9,334.1L398.2,334.1L398.2,334.1Q398.2,332.8 399.5,332.8L399.6,332.8Q401.0,332.8 401.0,334.2L401.0,334.2Q401.0,332.8 402.3,332.8L403.7,332.8L403.7,332.8Q403.7,331.5 405.0,331.5L407.4,331.5L407.4,331.5Q407.4,330.4 408.4,330.4L411.9,330.4L411.9,330.4Q411.9,330.1 412.3,330.1L413.3,330.1Q414.6,330.1 414.6,331.4L414.6,331.4Q414.6,330.1 416.0,330.1L416.0,330.1Q417.4,330.1 417.4,331.4L417.4,333.7L421.0,333.7L421.0,333.6Q421.0,332.3 422.4,332.3L422.4,332.3Q423.7,332.3 423.7,333.6L423.7,333.6Q423.7,332.3 425.1,332.3L426.5,332.3L426.5,332.3Q426.5,331.0 427.7,331.0L427.8,331.0Q429.2,331.0 429.2,332.3L429.2,332.3Q429.2,331.0 430.6,331.0L430.6,331.0Q431.9,331.0 431.9,332.3L431.9,333.7L433.3,333.7Q434.7,333.7 434.7,335.1L434.7,335.1Q434.7,333.7 436.0,333.7L437.4,333.7L437.4,333.7Q437.4,333.3 437.8,333.3L439.0,333.3Q440.6,333.3 440.6,334.9L440.6,334.9Q440.6,333.3 442.2,333.3L442.5,333.3Q443.8,333.3 443.8,334.6L443.8,334.6L445.6,334.6L445.6,332.5Q445.6,331.0 447.1,331.0L449.2,331.0L449.2,328.8Q449.2,327.3 450.7,327.3L452.9,327.3L452.9,327.0Q452.9,325.5 454.4,325.5L455.6,325.5Q456.5,325.5 456.5,326.4L456.5,326.4L457.9,326.4Q459.3,326.4 459.3,327.8L459.3,327.8Q459.3,326.4 460.6,326.4L462.0,326.4L462.0,326.4Q462.0,325.5 462.9,325.5L466.5,325.5L466.5,325.5Q466.5,324.2 467.8,324.2L470.0,324.2L470.0,324.2Q470.0,323.2 471.0,323.2L474.6,323.2L474.6,322.6Q474.6,321.1 476.1,321.1L477.3,321.1Q478.2,321.1 478.2,322.0L478.2,322.0L479.6,322.0Q480.9,322.0 480.9,323.3L480.9,323.3Q480.9,322.0 482.3,322.0L483.7,322.0L483.7,318.4Q483.7,316.9 485.2,316.9L487.3,316.9L487.3,315.5Q487.3,314.1 488.7,314.1L488.7,314.1Q490.0,314.1 490.0,315.5L490.0,315.5Q490.0,314.1 491.4,314.1L491.4,314.1Q492.8,314.1 492.8,315.5L492.8,316.3L494.4,316.3Q496.0,316.3 496.0,317.9L496.0,317.9Q496.0,316.3 497.5,316.3L499.1,316.3L499.1,316.3Q499.1,315.6 499.9,315.6L500.7,315.6Q502.3,315.6 502.3,317.2L502.3,317.2Q502.3,315.6 503.9,315.6L505.5,315.6L505.5,314.7Q505.5,313.2 507.0,313.2L507.7,313.2Q509.2,313.2 509.2,314.7L509.2,314.7L510.9,314.7Q512.6,314.7 512.6,316.4L512.6,316.4Q512.6,314.7 514.3,314.7L514.3,314.7Q516.0,314.7 516.0,316.4L516.0,316.4Q516.0,314.7 517.7,314.7L517.7,314.7Q519.4,314.7 519.4,316.4L519.4,316.4Q519.4,314.7 521.1,314.7L522.8,314.7L522.8,310.2Q522.8,308.7 524.3,308.7L527.4,308.7L527.4,304.3Q527.4,302.8 528.9,302.8L529.0,302.8Q530.6,302.8 530.6,304.4L530.6,304.4Q530.6,302.8 532.1,302.8L532.5,302.8Q533.7,302.8 533.7,304.1L533.7,304.1L537.4,304.1L537.4,300.7Q537.4,299.2 538.9,299.2L539.3,299.2Q541.0,299.2 541.0,301.0L541.0,301.0Q541.0,299.2 542.8,299.2L544.7,299.2L544.7,298.3Q544.7,296.8 546.2,296.8L546.8,296.8Q548.5,296.8 548.5,298.6L548.5,298.6Q548.5,296.8 550.3,296.8L550.6,296.8Q552.3,296.8 552.3,298.6L552.3,298.6Q552.3,296.8 554.1,296.8L554.4,296.8Q556.2,296.8 556.2,298.6L556.2,298.6Q556.2,296.8 557.9,296.8L558.5,296.8Q560.0,296.8 560.0,298.3L560.0,421.0Z" fill="#002060" filter="url(#soft)"/><path d="M30.0,421.0L30.0,348.8Q30.0,347.3 31.5,347.3L31.9,347.3Q33.6,347.3 33.6,349.0L33.6,349.0Q33.6,347.3 35.4,347.3L35.5,347.3Q37.3,347.3 37.3,349.0L37.3,349.0Q37.3,347.3 39.0,347.3L39.2,347.3Q40.9,347.3 40.9,349.0L40.9,349.0Q40.9,347.3 42.7,347.3L44.6,347.3L44.6,343.8Q44.6,342.3 46.1,342.3L48.2,342.3L48.2,342.3Q48.2,341.4 49.1,341.4L51.9,341.4L51.9,340.1Q51.9,338.7 53.2,338.7L53.2,338.7Q54.6,338.7 54.6,340.1L54.6,340.1Q54.6,338.7 56.0,338.7L57.3,338.7L57.3,338.7Q57.3,338.1 57.9,338.1L58.7,338.1Q60.0,338.1 60.0,339.5L60.0,339.5Q60.0,338.1 61.4,338.1L62.2,338.1Q62.8,338.1 62.8,338.7L62.8,338.7L66.4,338.7L66.4,337.5Q66.4,336.0 67.9,336.0L68.6,336.0Q70.1,336.0 70.1,337.5L70.1,337.8L74.3,337.8Q74.6,337.8 74.6,338.1L74.6,338.1L76.2,338.1Q77.8,338.1 77.8,339.7L77.8,339.7Q77.8,338.1 79.4,338.1L79.5,338.1Q81.0,338.1 81.0,339.6L81.0,340.9L84.6,340.9L84.6,340.7Q84.6,339.2 86.1,339.2L86.2,339.2Q87.8,339.2 87.8,340.8L87.8,340.8Q87.8,339.2 89.4,339.2L91.0,339.2L91.0,338.2Q91.0,336.9 92.4,336.9L93.7,336.9L93.7,336.4Q93.7,335.0 95.1,335.0L96.5,335.0L96.5,334.6Q96.5,333.2 97.8,333.2L97.8,333.2Q99.2,333.2 99.2,334.6L99.2,334.6Q99.2,333.2 100.6,333.2L101.4,333.2Q101.9,333.2 101.9,333.8L101.9,333.8L104.7,333.8L104.7,333.3Q104.7,332.0 106.0,332.0L106.0,332.0Q107.4,332.0 107.4,333.3L107.4,333.3Q107.4,332.0 108.8,332.0L110.1,332.0L110.1,331.8L111.7,331.8Q113.3,331.8 113.3,333.4L113.3,333.4Q113.3,331.8 114.9,331.8L115.0,331.8Q116.5,331.8 116.5,333.3L116.5,333.8L119.8,333.8Q121.1,333.8 121.1,335.0L121.1,335.0L124.7,335.0L124.7,335.0Q124.7,334.1 125.6,334.1L129.3,334.1L129.3,333.8Q129.3,332.3 130.8,332.3L132.3,332.3Q133.8,332.3 133.8,333.8L133.8,334.1L136.5,334.1Q137.5,334.1 137.5,335.0L137.5,335.0L138.7,335.0Q140.0,335.0 140.0,336.3L140.0,336.9L142.1,336.9Q143.6,336.9 143.6,338.4L143.6,338.7L146.7,338.7Q148.2,338.7 148.2,340.2L148.2,340.5L149.6,340.5Q150.9,340.5 150.9,341.9L150.9,341.9Q150.9,340.5 152.3,340.5L153.7,340.5L153.7,339.3Q153.7,337.8 155.2,337.8L157.3,337.8L157.3,336.6Q157.3,335.1 158.8,335.1L160.9,335.1L160.9,334.7Q160.9,333.2 162.4,333.2L164.6,333.2L164.6,332.9Q164.6,331.4 166.1,331.4L168.2,331.4L168.2,331.4Q168.2,330.5 169.1,330.5L171.9,330.5L171.9,330.2Q171.9,328.7 173.4,328.7L175.5,328.7L175.5,325.6Q175.5,324.1 177.0,324.1L179.2,324.1L179.2,324.1Q179.2,322.7 180.6,322.7L182.2,322.7Q183.7,322.7 183.7,324.2L183.7,325.0L185.1,325.0Q186.4,325.0 186.4,326.4L186.4,326.4Q186.4,325.0 187.8,325.0L189.2,325.0L189.2,321.1Q189.2,319.6 190.7,319.6L192.8,319.6L192.8,319.6Q192.8,318.3 194.1,318.3L196.5,318.3L196.5,315.6Q196.5,314.1 198.0,314.1L199.5,314.1Q201.0,314.1 201.0,315.6L201.0,316.5L203.2,316.5Q205.0,316.5 205.0,318.2L205.0,318.2Q205.0,316.5 206.7,316.5L207.2,316.5Q208.9,316.5 208.9,318.2L208.9,318.2Q208.9,316.5 210.7,316.5L212.8,316.5L212.8,316.5Q212.8,315.9 213.4,315.9L214.7,315.9Q216.5,315.9 216.5,317.7L216.5,317.7Q216.5,315.9 218.2,315.9L220.1,315.9L220.1,315.9Q220.1,314.7 221.4,314.7L221.5,314.7Q222.9,314.7 222.9,316.0L222.9,316.0Q222.9,314.7 224.2,314.7L225.6,314.7L225.6,314.7Q225.6,313.2 227.1,313.2L227.5,313.2Q229.2,313.2 229.2,315.0L229.2,315.0Q229.2,313.2 231.0,313.2L231.4,313.2Q232.9,313.2 232.9,314.7L232.9,314.7L236.2,314.7Q236.5,314.7 236.5,315.0L236.5,315.0L237.9,315.0Q239.3,315.0 239.3,316.4L239.3,316.4Q239.3,315.0 240.6,315.0L242.0,315.0L242.0,314.7Q242.0,313.2 243.5,313.2L246.5,313.2L246.5,312.0Q246.5,310.5 248.0,310.5L248.3,310.5Q250.1,310.5 250.1,312.2L250.1,312.2Q250.1,310.5 251.8,310.5L252.1,310.5Q253.6,310.5 253.6,312.0L253.6,320.5L255.8,320.5Q257.3,320.5 257.3,322.0L257.3,331.4L258.7,331.4Q260.0,331.4 260.0,332.8L260.0,332.9L263.7,332.9L263.7,332.0Q263.7,330.5 265.2,330.5L268.2,330.5L268.2,330.1Q268.2,328.7 269.6,328.7L269.6,328.7Q270.9,328.7 270.9,330.1L270.9,330.1Q270.9,328.7 272.3,328.7L272.4,328.7Q273.7,328.7 273.7,330.0L273.7,330.0L275.0,330.0Q276.4,330.0 276.4,331.3L276.4,331.3Q276.4,330.0 277.8,330.0L277.8,330.0Q279.1,330.0 279.1,331.3L279.1,331.4L282.8,331.4L282.8,331.4Q282.8,330.5 283.7,330.5L285.5,330.5Q286.4,330.5 286.4,331.4L286.4,331.4L291.0,331.4L291.0,331.4Q291.0,330.0 292.4,330.0L294.6,330.0L294.6,329.1Q294.6,327.8 296.0,327.8L296.0,327.8Q297.4,327.8 297.4,329.1L297.4,329.1Q297.4,327.8 298.7,327.8L298.7,327.8Q300.1,327.8 300.1,329.1L300.1,330.5L303.7,330.5L303.7,330.5Q303.7,329.6 304.6,329.6L307.4,329.6L307.4,327.1Q307.4,325.6 308.9,325.6L311.0,325.6L311.0,325.3Q311.0,323.8 312.5,323.8L314.1,323.8Q315.6,323.8 315.6,325.3L315.6,325.6L317.2,325.6Q318.8,325.6 318.8,327.2L318.8,327.2Q318.8,325.6 320.3,325.6L321.9,325.6L321.9,325.6Q321.9,324.5 323.0,324.5L324.1,324.5Q325.6,324.5 325.6,326.0L325.6,331.4L326.9,331.4Q328.3,331.4 328.3,332.8L328.3,332.8Q328.3,331.4 329.7,331.4L331.0,331.4L331.0,328.2Q331.0,326.9 332.4,326.9L333.8,326.9L333.8,325.9Q333.8,324.5 335.1,324.5L335.1,324.5Q336.5,324.5 336.5,325.9L336.5,325.9Q336.5,324.5 337.9,324.5L337.9,324.5Q339.2,324.5 339.2,325.9L339.2,327.4L342.9,327.4L342.9,326.4Q342.9,325.0 344.2,325.0L345.6,325.0L345.6,323.5Q345.6,322.0 347.1,322.0L349.3,322.0L349.3,322.0Q349.3,320.5 350.7,320.5L353.8,320.5L353.8,320.2Q353.8,318.7 355.3,318.7L357.5,318.7L357.5,318.1Q357.5,316.9 358.7,316.9L359.5,316.9Q360.0,316.9 360.0,317.3L360.0,317.3L361.4,317.3Q362.7,317.3 362.7,318.7L362.7,319.5L366.2,319.5Q367.3,319.5 367.3,320.6L367.3,320.6L368.7,320.6Q370.0,320.6 370.0,322.0L370.0,322.0Q370.0,320.6 371.4,320.6L372.0,320.6Q372.7,320.6 372.7,321.3L372.7,321.3L374.1,321.3Q375.5,321.3 375.5,322.7L375.5,322.7Q375.5,321.3 376.8,321.3L376.8,321.3Q378.2,321.3 378.2,322.7L378.2,323.7L379.1,323.7Q380.0,323.7 380.0,324.6L380.0,332.3L381.4,332.3Q382.8,332.3 382.8,333.6L382.8,333.6Q382.8,332.3 384.1,332.3L384.4,332.3Q385.5,332.3 385.5,333.3L385.5,333.3L387.4,333.3Q389.1,333.3 389.1,335.1L389.1,335.1Q389.1,333.3 390.9,333.3L392.1,333.3Q392.8,333.3 392.8,334.1L392.8,334.1L394.1,334.1Q395.5,334.1 395.5,335.4L395.5,335.4Q395.5,334.1 396.9,334.1L398.2,334.1L398.2,334.1Q398.2,332.8 399.5,332.8L399.6,332.8Q401.0,332.8 401.0,334.2L401.0,334.2Q401.0,332.8 402.3,332.8L403.7,332.8L403.7,332.8Q403.7,331.5 405.0,331.5L407.4,331.5L407.4,331.5Q407.4,330.4 408.4,330.4L411.9,330.4L411.9,330.4Q411.9,330.1 412.3,330.1L413.3,330.1Q414.6,330.1 414.6,331.4L414.6,331.4Q414.6,330.1 416.0,330.1L416.0,330.1Q417.4,330.1 417.4,331.4L417.4,333.7L421.0,333.7L421.0,333.6Q421.0,332.3 422.4,332.3L422.4,332.3Q423.7,332.3 423.7,333.6L423.7,333.6Q423.7,332.3 425.1,332.3L426.5,332.3L426.5,332.3Q426.5,331.0 427.7,331.0L427.8,331.0Q429.2,331.0 429.2,332.3L429.2,332.3Q429.2,331.0 430.6,331.0L430.6,331.0Q431.9,331.0 431.9,332.3L431.9,333.7L433.3,333.7Q434.7,333.7 434.7,335.1L434.7,335.1Q434.7,333.7 436.0,333.7L437.4,333.7L437.4,333.7Q437.4,333.3 437.8,333.3L439.0,333.3Q440.6,333.3 440.6,334.9L440.6,334.9Q440.6,333.3 442.2,333.3L442.5,333.3Q443.8,333.3 443.8,334.6L443.8,334.6L445.6,334.6L445.6,332.5Q445.6,331.0 447.1,331.0L449.2,331.0L449.2,328.8Q449.2,327.3 450.7,327.3L452.9,327.3L452.9,327.0Q452.9,325.5 454.4,325.5L455.6,325.5Q456.5,325.5 456.5,326.4L456.5,326.4L457.9,326.4Q459.3,326.4 459.3,327.8L459.3,327.8Q459.3,326.4 460.6,326.4L462.0,326.4L462.0,326.4Q462.0,325.5 462.9,325.5L466.5,325.5L466.5,325.5Q466.5,324.2 467.8,324.2L470.0,324.2L470.0,324.2Q470.0,323.2 471.0,323.2L474.6,323.2L474.6,322.6Q474.6,321.1 476.1,321.1L477.3,321.1Q478.2,321.1 478.2,322.0L478.2,322.0L479.6,322.0Q480.9,322.0 480.9,323.3L480.9,323.3Q480.9,322.0 482.3,322.0L483.7,322.0L483.7,318.4Q483.7,316.9 485.2,316.9L487.3,316.9L487.3,315.5Q487.3,314.1 488.7,314.1L488.7,314.1Q490.0,314.1 490.0,315.5L490.0,315.5Q490.0,314.1 491.4,314.1L491.4,314.1Q492.8,314.1 492.8,315.5L492.8,316.3L494.4,316.3Q496.0,316.3 496.0,317.9L496.0,317.9Q496.0,316.3 497.5,316.3L499.1,316.3L499.1,316.3Q499.1,315.6 499.9,315.6L500.7,315.6Q502.3,315.6 502.3,317.2L502.3,317.2Q502.3,315.6 503.9,315.6L505.5,315.6L505.5,314.7Q505.5,313.2 507.0,313.2L507.7,313.2Q509.2,313.2 509.2,314.7L509.2,314.7L510.9,314.7Q512.6,314.7 512.6,316.4L512.6,316.4Q512.6,314.7 514.3,314.7L514.3,314.7Q516.0,314.7 516.0,316.4L516.0,316.4Q516.0,314.7 517.7,314.7L517.7,314.7Q519.4,314.7 519.4,316.4L519.4,316.4Q519.4,314.7 521.1,314.7L522.8,314.7L522.8,310.2Q522.8,308.7 524.3,308.7L527.4,308.7L527.4,304.3Q527.4,302.8 528.9,302.8L529.0,302.8Q530.6,302.8 530.6,304.4L530.6,304.4Q530.6,302.8 532.1,302.8L532.5,302.8Q533.7,302.8 533.7,304.1L533.7,304.1L537.4,304.1L537.4,300.7Q537.4,299.2 538.9,299.2L539.3,299.2Q541.0,299.2 541.0,301.0L541.0,301.0Q541.0,299.2 542.8,299.2L544.7,299.2L544.7,298.3Q544.7,296.8 546.2,296.8L546.8,296.8Q548.5,296.8 548.5,298.6L548.5,298.6Q548.5,296.8 550.3,296.8L550.6,296.8Q552.3,296.8 552.3,298.6L552.3,298.6Q552.3,296.8 554.1,296.8L554.4,296.8Q556.2,296.8 556.2,298.6L556.2,298.6Q556.2,296.8 557.9,296.8L558.5,296.8Q560.0,296.8 560.0,298.3L560.0,421.0Z" fill="#002060" opacity="0.75"/></g>
<path d="M558.7,291.5V415.0" stroke="#666" stroke-width="0.9" fill="none"/>
<path d="M558.7,291.5H561.7M558.7,303.9H561.7M558.7,316.2H561.7M558.7,328.6H561.7M558.7,340.9H561.7M558.7,353.2H561.7M558.7,365.6H561.7M558.7,377.9H561.7M558.7,390.3H561.7M558.7,402.6H561.7M558.7,415.0H561.7" stroke="#555" stroke-width="0.9" fill="none"/>
<g font-family="'Liberation Sans',sans-serif" font-size="8.3" fill="#24397a" text-anchor="end">
<text x="28.2" y="294.8" textLength="16.2" lengthAdjust="spacingAndGlyphs">6000</text>
<text x="28.2" y="315.4" textLength="16.2" lengthAdjust="spacingAndGlyphs">5000</text>
<text x="28.2" y="336.0" textLength="16.2" lengthAdjust="spacingAndGlyphs">4000</text>
<text x="28.2" y="356.6" textLength="16.2" lengthAdjust="spacingAndGlyphs">3000</text>
<text x="28.2" y="377.1" textLength="16.2" lengthAdjust="spacingAndGlyphs">2000</text>
<text x="28.2" y="397.7" textLength="16.2" lengthAdjust="spacingAndGlyphs">1000</text>
<text x="28.2" y="418.3" textLength="4.0" lengthAdjust="spacingAndGlyphs">0</text>
</g>
<g font-family="'Liberation Serif',serif" font-size="8.1" fill="#111">
<text x="565.6" y="294.5">10</text>
<text x="565.6" y="306.9">9</text>
<text x="565.6" y="319.2">8</text>
<text x="565.6" y="331.6">7</text>
<text x="565.6" y="343.9">6</text>
<text x="565.6" y="356.2">5</text>
<text x="565.6" y="368.6">4</text>
<text x="565.6" y="380.9">3</text>
<text x="565.6" y="393.3">2</text>
<text x="565.6" y="405.6">1</text>
<text x="565.6" y="418.0">0</text>
</g>
<g font-family="'Liberation Sans',sans-serif" font-size="8" fill="#555" text-anchor="middle">
<text x="36.4" y="429.9" textLength="18.8" lengthAdjust="spacingAndGlyphs">23/06</text>
<text x="82.6" y="429.9" textLength="18.8" lengthAdjust="spacingAndGlyphs">23/09</text>
<text x="128.7" y="429.9" textLength="18.8" lengthAdjust="spacingAndGlyphs">23/12</text>
<text x="174.9" y="429.9" textLength="18.8" lengthAdjust="spacingAndGlyphs">24/03</text>
<text x="221.1" y="429.9" textLength="18.8" lengthAdjust="spacingAndGlyphs">24/06</text>
<text x="267.2" y="429.9" textLength="18.8" lengthAdjust="spacingAndGlyphs">24/09</text>
<text x="313.4" y="429.9" textLength="18.8" lengthAdjust="spacingAndGlyphs">24/12</text>
<text x="359.6" y="429.9" textLength="18.8" lengthAdjust="spacingAndGlyphs">25/03</text>
<text x="405.8" y="429.9" textLength="18.8" lengthAdjust="spacingAndGlyphs">25/06</text>
<text x="451.9" y="429.9" textLength="18.8" lengthAdjust="spacingAndGlyphs">25/09</text>
<text x="498.1" y="429.9" textLength="18.8" lengthAdjust="spacingAndGlyphs">25/12</text>
<text x="544.3" y="429.9" textLength="18.8" lengthAdjust="spacingAndGlyphs">26/03</text>
</g>
<path d="M36.4,371.5L40.0,373.8L43.7,375.7L47.3,372.0L50.9,367.8L54.6,364.6L58.2,363.6L61.9,362.9L65.1,364.2L68.6,358.7L72.3,363.3L75.5,359.6L79.2,362.4L82.8,367.3L86.5,367.5L90.1,370.6L93.7,366.6L97.4,349.6L100.7,342.9L104.1,351.4L107.8,348.2L111.4,349.1L114.7,349.3L118.3,353.3L122.0,360.9L125.6,364.2L129.3,362.4L132.5,355.1L135.6,364.2L140.0,364.2L142.7,352.4L146.4,351.8L150.0,365.1L153.7,366.9L157.3,363.3L160.9,361.5L164.6,364.2L168.2,367.8L171.9,368.8L175.5,361.5L179.2,357.8L182.4,354.7L185.9,367.8L189.2,351.5L192.5,340.2L195.9,342.4L199.2,324.1L202.8,327.8L206.5,331.4L210.1,335.1L213.8,338.2L217.4,339.6L221.0,340.0L224.3,334.7L228.0,336.5L231.6,336.0L234.7,334.2L238.3,342.7L242.0,339.6L245.6,335.1L250.0,324.1L252.7,307.7L256.4,326.0L260.0,342.7L263.3,344.5L266.9,336.0L270.4,331.4L274.0,334.7L277.7,348.2L281.3,339.6L284.6,331.1L288.2,336.9L291.9,334.2L295.5,330.5L298.8,318.1L302.5,332.9L305.9,334.7L309.2,335.1L312.8,340.5L316.1,341.4L320.1,351.5L323.4,344.2L327.0,343.3L330.7,343.3L334.3,335.1L338.0,326.9L341.6,345.1L345.2,341.4L348.7,338.7L352.4,346.4L355.6,349.3L358.9,322.3L363.3,341.0L366.7,348.6L370.0,349.7L373.3,319.1L376.8,296.9L380.4,309.1L383.7,332.3L387.0,339.2L390.0,341.9L391.9,341.5L393.7,345.5L397.3,350.1L401.0,352.8L404.6,355.2L408.3,354.7L411.9,357.0L415.5,360.1L418.8,361.4L422.5,357.7L426.1,357.4L429.8,357.7L433.4,364.7L436.4,363.7L440.1,367.9L443.7,372.8L447.7,366.4L451.0,360.0L454.6,360.0L458.3,367.3L461.9,369.2L465.2,381.0L468.8,358.2L472.3,357.0L475.6,354.6L479.2,359.1L482.5,355.5L486.1,343.1L489.8,344.6L493.4,342.4L497.1,348.2L500.6,349.7L504.2,350.9L507.9,349.1L510.4,364.2L514.8,364.2L518.3,346.0L521.9,350.6L525.2,346.0L528.8,339.3L532.5,344.2L536.1,351.5L539.2,350.6L542.8,347.8L546.5,343.3L550.1,344.7" stroke="#FFC000" stroke-width="2.9" fill="none" stroke-linejoin="round" stroke-linecap="butt"/>
<text x="43.2" y="300" font-family="'Liberation Serif','Noto Serif CJK JP','Noto Serif CJK SC',serif" font-size="7.8" fill="#111">(10<tspan font-size="8.4" font-weight="600">億円</tspan>)</text>
<rect x="246" y="376" width="139.2" height="26.5" fill="#fff"/>
<text x="257" y="393.3" font-family="'Liberation Serif','Noto Serif CJK JP','Noto Serif CJK SC',serif" font-size="10.3" font-weight="700" fill="#111">信用買い残（金額、左軸）</text>
<rect x="409.5" y="383.6" width="103.2" height="25.4" fill="#ffff00" stroke="#d8d800" stroke-width="0.6"/>
<text x="424" y="400.3" font-family="'Liberation Serif','Noto Serif CJK JP','Noto Serif CJK SC',serif" font-size="10.3" font-weight="700" fill="#111">信用倍率（右軸）</text>
</svg></body></html>
